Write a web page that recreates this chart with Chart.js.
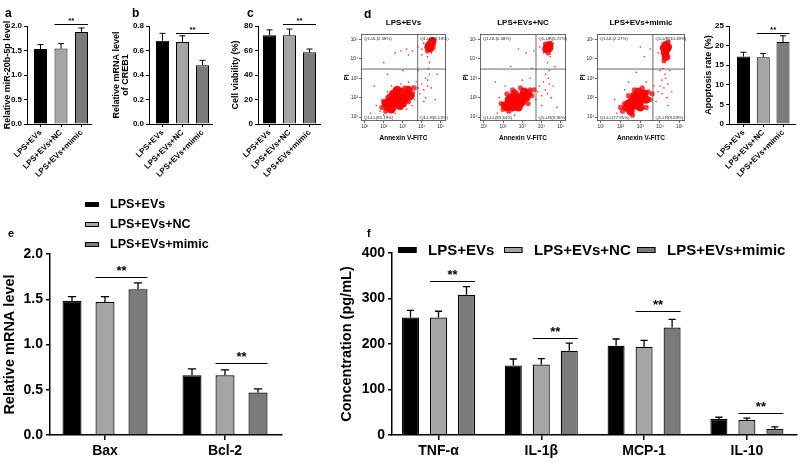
<!DOCTYPE html>
<html><head><meta charset="utf-8">
<script src="https://cdn.jsdelivr.net/npm/chart.js@4"></script>
<style>
html,body{margin:0;padding:0;background:#fff;}
#wrap{position:relative;width:800px;height:465px;overflow:hidden;background:#fff;}
canvas{position:absolute;}
</style></head><body><div id="wrap"></div>
<script>
// ================= DATA =================
const groups = ['LPS+EVs', 'LPS+EVs+NC', 'LPS+EVs+mimic'];

const miR20bValues = [1.53, 1.54, 1.88];
const miR20bErrors = [0.09, 0.10, 0.08];
const miR20bTicks = [0, 0.5, 1.0, 1.5, 2.0];

const creb1Values = [0.68, 0.67, 0.48];
const creb1Errors = [0.06, 0.05, 0.04];
const creb1Ticks = [0, 0.2, 0.4, 0.6, 0.8];

const viabilityValues = [72.5, 72.5, 58.5];
const viabilityErrors = [4.3, 5.0, 2.7];
const viabilityTicks = [0, 20, 40, 60, 80];

const apoptosisValues = [17.2, 17.0, 20.9];
const apoptosisErrors = [1.1, 1.0, 1.6];
const apoptosisTicks = [0, 5, 10, 15, 20, 25];

const geneCats = ['Bax', 'Bcl-2'];
const geneEVs = [1.48, 0.66];
const geneEVsErr = [0.05, 0.07];
const geneNC = [1.47, 0.66];
const geneNCErr = [0.06, 0.06];
const geneMimic = [1.61, 0.47];
const geneMimicErr = [0.07, 0.04];
const geneTicks = [0, 0.5, 1.0, 1.5, 2.0];

const cytoCats = ['TNF-α', 'IL-1β', 'MCP-1', 'IL-10'];
const cytoEVs = [258, 153, 196, 35];
const cytoEVsErr = [16, 14, 15, 4];
const cytoNC = [258, 155, 194, 33];
const cytoNCErr = [14, 13, 14, 4];
const cytoMimic = [308, 185, 236, 13];
const cytoMimicErr = [18, 17, 18, 5];
const cytoTicks = [0, 100, 200, 300, 400];

// flow cytometry (values are log10 decades)
const flowTickPos = [1, 2, 3, 4, 5];
const flowTickLabels = ['10¹', '10²', '10³', '10⁴', '10⁵'];
const flowTitles = ['LPS+EVs', 'LPS+EVs+NC', 'LPS+EVs+mimic'];
const flow1Quads = ['Q1-UL(2.58%)', 'Q1-UR(9.18%)', 'Q1-LL(81.19%)', 'Q1-LR(6.13%)'];
const flow2Quads = ['Q1-UL(0.58%)', 'Q1-UR(6.72%)', 'Q1-LL(83.34%)', 'Q1-LR(9.36%)'];
const flow3Quads = ['Q1-UL(2.27%)', 'Q1-UR(10.49%)', 'Q1-LL(77.95%)', 'Q1-LR(9.29%)'];
const flow1Gate = [3.78, 3.47];
const flow2Gate = [3.71, 3.47];
const flow3Gate = [3.64, 3.47];

const flow1Dense = [[2.2,1.5],[2.4,1.6],[2.6,1.7],[2.8,1.8],[3.0,2.0],[3.2,2.2],[2.5,1.9],[2.7,2.1],[2.9,2.3],[2.3,1.8],[2.6,2.0],[2.8,1.6],[3.1,1.9],[2.4,1.4],[2.7,2.4],[3.3,2.4],[2.1,1.7],[3.0,1.7],[2.5,2.2],[3.4,2.1],[4.4,4.7],[4.5,4.8],[4.35,4.6],[4.55,4.9],[4.45,4.55]];
const flow1Mid = [[1.9,1.5],[2.1,1.3],[2.0,1.8],[2.3,2.1],[2.6,2.4],[3.1,2.5],[3.3,1.8],[3.5,2.2],[2.9,1.5],[2.5,1.4],[3.6,2.5],[2.2,2.0],[4.3,4.4],[4.6,4.65]];
const flow1Sparse = [[3.5,2.6],[3.6,2.3],[3.7,2.8],[3.8,2.5],[3.9,2.2],[4.0,2.7],[4.1,2.4],[4.2,2.0],[4.3,2.6],[4.3,2.9],[4.4,3.2],[4.35,3.5],[4.4,3.8],[4.3,4.1],[4.5,4.3],[4.2,3.0],[4.5,2.5],[4.1,1.8],[1.8,1.3],[2.0,1.1],[1.9,1.9],[2.2,2.3],[2.4,2.6],[3.2,1.4],[3.5,1.6],[2.9,2.7],[3.3,2.8],[1.6,1.6],[2.6,1.2],[3.6,1.9],[2.9,4.4],[3.2,4.5],[3.5,4.4],[3.8,4.6],[4.0,4.5],[4.1,4.8],[3.3,4.2],[2.6,4.3],[4.7,4.5],[4.6,5.0],[4.0,4.2],[1.5,2.6],[2.2,3.2],[3.0,3.4],[3.8,3.4],[4.8,3.2],[4.7,1.9],[1.3,1.2],[2.0,3.8]];

const flow2Dense = [[2.2,1.5],[2.4,1.7],[2.6,1.8],[2.8,1.9],[3.0,2.1],[2.5,1.5],[2.7,2.0],[2.9,1.7],[2.3,1.9],[3.1,2.3],[2.6,2.2],[2.1,1.6],[2.8,1.5],[3.2,2.0],[2.4,2.0],[3.0,1.8],[2.7,1.6],[3.3,2.2],[4.3,4.6],[4.4,4.7],[4.25,4.5],[4.4,4.55]];
const flow2Mid = [[2.0,1.4],[1.9,1.7],[2.2,2.2],[2.5,2.4],[3.4,2.4],[3.3,1.7],[3.5,2.1],[2.9,2.5],[2.3,1.3],[3.6,2.4],[4.35,4.3],[4.2,4.75]];
const flow2Sparse = [[3.8,2.3],[3.9,2.6],[4.0,2.1],[4.1,2.8],[4.2,2.4],[4.3,2.2],[4.4,2.7],[4.35,3.0],[4.4,3.4],[4.3,3.8],[4.45,4.1],[4.2,3.2],[4.5,2.0],[4.6,2.6],[3.7,1.9],[4.0,1.6],[1.7,1.2],[1.8,2.0],[2.1,2.6],[3.0,2.9],[3.4,3.0],[2.6,1.1],[3.6,4.4],[3.9,4.6],[4.1,4.3],[4.6,4.8],[4.5,4.9],[3.2,4.3],[2.8,4.5],[2.4,3.6],[1.6,2.8],[4.7,3.6],[3.5,3.5],[4.8,1.5]];

const flow3Dense = [[2.5,1.5],[2.7,1.7],[2.9,1.9],[3.1,2.1],[2.6,1.9],[2.8,1.6],[3.0,1.8],[2.4,1.7],[3.2,2.2],[2.7,2.1],[2.5,1.3],[2.9,2.3],[3.3,1.9],[2.3,1.5],[3.0,1.5],[2.8,2.0],[4.3,4.7],[4.35,4.5],[4.25,4.3],[4.4,4.6],[4.3,4.1],[4.2,4.55]];
const flow3Mid = [[2.1,1.3],[2.2,1.7],[2.4,2.1],[2.7,2.4],[3.4,2.3],[3.5,1.9],[3.3,1.5],[2.6,1.1],[3.1,2.5],[2.0,1.5],[3.6,2.2],[4.2,3.9],[4.4,4.85]];
const flow3Sparse = [[4.1,2.2],[4.2,2.5],[4.1,2.9],[4.25,3.2],[4.15,3.5],[4.2,3.8],[4.3,3.0],[4.0,2.6],[4.35,2.0],[4.4,2.7],[3.9,2.3],[3.8,1.8],[4.5,3.4],[4.5,4.0],[4.5,4.9],[4.1,4.8],[3.9,4.3],[3.5,4.5],[3.2,4.1],[2.8,3.3],[2.2,2.4],[1.8,1.2],[1.7,1.9],[3.7,2.6],[3.3,2.8],[4.6,2.3],[4.4,1.6],[2.4,2.8],[3.0,4.6],[4.0,3.4]];

// ================= RENDER =================
const FAM = '"Liberation Sans", Arial, Helvetica, sans-serif';
const C1 = '#000000', C2 = '#a5a5a5', C3 = '#7b7b7b';
const barColors = [C1, C2, C3];

function addCanvas(box) {
  const c = document.createElement('canvas');
  c.width = box[2]; c.height = box[3];
  c.style.left = box[0] + 'px'; c.style.top = box[1] + 'px';
  c.style.width = box[2] + 'px'; c.style.height = box[3] + 'px';
  document.getElementById('wrap').appendChild(c);
  return c;
}

const extras = {
  id: 'extras',
  afterDatasetsDraw(chart, args, o) {
    const ctx = chart.ctx, ys = chart.scales.y;
    const ox = o.off[0], oy = o.off[1];
    ctx.save();
    ctx.strokeStyle = '#000'; ctx.fillStyle = '#000';
    chart.data.datasets.forEach((ds, di) => {
      if (!ds.errors) return;
      chart.getDatasetMeta(di).data.forEach((el, i) => {
        const top = ys.getPixelForValue(ds.data[i].y + ds.errors[i]);
        const cw = el.width * o.cap;
        ctx.lineWidth = o.elw;
        ctx.beginPath();
        ctx.moveTo(el.x, el.y); ctx.lineTo(el.x, top);
        ctx.moveTo(el.x - cw / 2, top); ctx.lineTo(el.x + cw / 2, top);
        ctx.stroke();
      });
    });
    (o.sig || []).forEach(s => {
      const a = chart.getDatasetMeta(s.a[0]).data[s.a[1]];
      const b = chart.getDatasetMeta(s.b[0]).data[s.b[1]];
      const y = Math.round(ys.getPixelForValue(s.y)) + 0.5;
      const xa = a.x - a.width / 2, xb = b.x + b.width / 2;
      ctx.lineWidth = o.slw;
      ctx.beginPath(); ctx.moveTo(xa, y); ctx.lineTo(xb, y); ctx.stroke();
      ctx.font = 'bold ' + o.sfs + 'px ' + FAM;
      ctx.textAlign = 'center'; ctx.textBaseline = 'alphabetic';
      ctx.fillText('**', (xa + xb) / 2, y - o.sgap);
    });
    if (o.legend) {
      const L = o.legend;
      ctx.font = 'bold ' + L.fs + 'px ' + FAM;
      ctx.textAlign = 'left'; ctx.textBaseline = 'middle';
      L.pos.forEach((p, i) => {
        const x = p[0] - ox, y = p[1] - oy;
        ctx.fillStyle = barColors[i];
        ctx.fillRect(x, y, L.bw, L.bh);
        ctx.lineWidth = 1; ctx.strokeStyle = '#000';
        ctx.strokeRect(x + 0.5, y + 0.5, L.bw - 1, L.bh - 1);
        ctx.fillStyle = '#000';
        ctx.fillText(groups[i], x + L.tx, y + L.bh / 2 + 0.5);
      });
    }
    (o.texts || []).forEach(t => {
      ctx.font = t.font; ctx.fillStyle = '#000';
      ctx.textAlign = t.align || 'left'; ctx.textBaseline = 'alphabetic';
      ctx.fillText(t.text, t.x - ox, t.y - oy);
    });
    ctx.restore();
  }
};

function barPanel(p) {
  const [bx, by, bw, bh] = p.box;
  const x0 = p.axisX, x1 = p.endX, y0 = p.topY, y1 = p.zeroY;
  const xmin = -(p.firstCenter - x0) / p.unit, xmax = (x1 - p.firstCenter) / p.unit;
  const lw = p.lw;
  new Chart(addCanvas(p.box), {
    type: 'bar',
    data: { datasets: p.datasets },
    options: {
      responsive: false, animation: false, events: [],
      datasets: { bar: { categoryPercentage: p.catPct, barPercentage: p.barPct, borderColor: '#000', borderWidth: p.bbw } },
      layout: { padding: { left: 0, top: y0 - by, right: bx + bw - x1, bottom: 0 } },
      plugins: { legend: { display: false }, tooltip: { enabled: false },
        extras: Object.assign({ off: [bx, by] }, p.extras) },
      scales: {
        x: { type: 'linear', min: xmin, max: xmax, offset: false, bounds: 'data',
          afterBuildTicks(s) { s.ticks = p.cats.map((_, i) => ({ value: i })); },
          afterFit(s) { s.height = by + bh - y1; s.paddingLeft = 0; s.paddingRight = 0; },
          ticks: { autoSkip: false, callback: (v) => p.cats[v], minRotation: p.rot, maxRotation: p.rot,
            padding: p.xpad, color: '#000', font: { family: FAM, size: p.xfs, weight: 'bold' } },
          grid: { offset: false, drawOnChartArea: false, drawTicks: true, tickLength: p.xtl, color: '#000', lineWidth: lw },
          border: { color: '#000', width: lw } },
        y: { min: 0, max: p.ymax,
          afterBuildTicks(s) { s.ticks = p.yticks.map(v => ({ value: v })); },
          afterFit(s) { s.width = x0 - bx; s.paddingTop = 0; s.paddingBottom = 0; },
          ticks: { callback: (v) => p.yfmt(v), padding: p.ypad, color: '#000', font: { family: FAM, size: p.yfs, weight: 'bold' } },
          grid: { drawOnChartArea: false, drawTicks: true, tickLength: p.ytl, color: '#000', lineWidth: lw },
          border: { color: '#000', width: lw },
          title: { display: true, text: p.ytitle, color: '#000',
            font: { family: FAM, size: p.ytfs, weight: 'bold', lineHeight: p.ytlh || 1.2 },
            padding: { top: p.ytpad, bottom: 0 } } }
      }
    },
    plugins: [extras]
  });
}

function single(values, errors) {
  return [{ data: values.map((v, i) => ({ x: i, y: v })), errors: errors, backgroundColor: barColors }];
}
function grouped(sets) {
  return sets.map((s, k) => ({ data: s[0].map((v, i) => ({ x: i, y: v })), errors: s[1], backgroundColor: barColors[k] }));
}
const f1 = v => v.toFixed(1), f0 = v => String(v);

function topPanel(box, axisX, firstCenter, unit, endX, values, errors, ticks, ymax, fmt, title, tpad, sigY, letter, lh) {
  barPanel({
    box, axisX, firstCenter, unit, endX, topY: 26, zeroY: 124,
    catPct: 1, barPct: 13 / unit, bbw: 1, lw: 1,
    datasets: single(values, errors), cats: groups, rot: 45, xfs: 8, xpad: 1, xtl: 3,
    ymax, yticks: ticks, yfmt: fmt, ypad: 2, ytl: 3, yfs: 8,
    ytitle: title, ytfs: 9, ytpad: tpad, ytlh: lh,
    extras: { cap: 0.46, elw: 1, slw: 1, sfs: 8, sgap: 1.5, sig: [{ a: [0, 1], b: [0, 2], y: sigY }],
      texts: [{ text: letter.t, x: letter.x, y: letter.y, font: 'bold 12px ' + FAM }] }
  });
}

topPanel([0, 0, 105, 190], 27, 40.5, 20.5, 91, miR20bValues, miR20bErrors, miR20bTicks, 2.0, f1,
  'Relative miR-20b-5p level', 2.6, 2.04, { t: 'a', x: 5, y: 17 }, 1.2);
topPanel([110, 0, 110, 190], 149, 162.5, 20, 212, creb1Values, creb1Errors, creb1Ticks, 0.8, f1,
  ['Relative mRNA level', 'of CREB1'], 2.5, 0.743, { t: 'b', x: 132, y: 17 }, 1.0);
topPanel([220, 0, 110, 190], 258, 269.5, 20, 320, viabilityValues, viabilityErrors, viabilityTicks, 80, f0,
  'Cell viability (%)', 10.6, 81.4, { t: 'c', x: 247, y: 17 }, 1.2);
topPanel([690, 0, 110, 190], 729, 743.5, 19.75, 795, apoptosisValues, apoptosisErrors, apoptosisTicks, 25, f0,
  'Apoptosis rate (%)', 13.6, 23.1, { t: '', x: 0, y: 0 }, 1.2);

// panel e
barPanel({
  box: [0, 190, 360, 275], axisX: 50, firstCenter: 105, unit: 120, endX: 282, topY: 254, zeroY: 435,
  catPct: 99 / 120, barPct: 19 / 33, bbw: 1.2, lw: 1.5,
  datasets: grouped([[geneEVs, geneEVsErr], [geneNC, geneNCErr], [geneMimic, geneMimicErr]]),
  cats: geneCats, rot: 0, xfs: 14, xpad: 3, xtl: 5,
  ymax: 2.0, yticks: geneTicks, yfmt: f1, ypad: 3, ytl: 4, yfs: 14,
  ytitle: 'Relative mRNA level', ytfs: 14.5, ytpad: 1.3,
  extras: { cap: 0.44, elw: 1.3, slw: 1.2, sfs: 13, sgap: 2.5,
    sig: [{ a: [1, 0], b: [2, 0], y: 1.746 }, { a: [1, 1], b: [2, 1], y: 0.796 }],
    legend: { fs: 12.5, bw: 14, bh: 5, tx: 25, pos: [[85, 202], [85, 222], [85, 242]] },
    texts: [{ text: 'e', x: 8, y: 237, font: 'bold 11px ' + FAM }] }
});

// panel f
barPanel({
  box: [338, 190, 462, 275], axisX: 392, firstCenter: 438.5, unit: 102.8, endX: 797, topY: 253, zeroY: 435,
  catPct: 84 / 102.8, barPct: 17 / 28, bbw: 1.2, lw: 1.5,
  datasets: grouped([[cytoEVs, cytoEVsErr], [cytoNC, cytoNCErr], [cytoMimic, cytoMimicErr]]),
  cats: cytoCats, rot: 0, xfs: 14, xpad: 3, xtl: 5,
  ymax: 400, yticks: cytoTicks, yfmt: f0, ypad: 3, ytl: 4, yfs: 14,
  ytitle: 'Concentration (pg/mL)', ytfs: 14.5, ytpad: 0,
  extras: { cap: 0.42, elw: 1.3, slw: 1.2, sfs: 13, sgap: 2.5,
    sig: [{ a: [1, 0], b: [2, 0], y: 338 }, { a: [1, 1], b: [2, 1], y: 213 }, { a: [1, 2], b: [2, 2], y: 272 }, { a: [1, 3], b: [2, 3], y: 49 }],
    legend: { fs: 15, bw: 18.5, bh: 6, tx: 30, pos: [[398, 247], [504, 247], [637, 247]] },
    texts: [{ text: 'f', x: 367, y: 237, font: 'bold 11px ' + FAM }] }
});

// flow cytometry panels
const flowPlugin = {
  id: 'flow',
  afterDatasetsDraw(chart, args, o) {
    const ctx = chart.ctx, a = chart.chartArea, xs = chart.scales.x, ys = chart.scales.y;
    ctx.save();
    ctx.strokeStyle = '#444'; ctx.lineWidth = 0.8;
    ctx.strokeRect(a.left + 0.4, a.top + 0.4, a.right - a.left - 0.8, a.bottom - a.top - 0.8);
    const vx = xs.getPixelForValue(o.gate[0]), hy = ys.getPixelForValue(o.gate[1]);
    ctx.beginPath();
    ctx.moveTo(vx, a.top); ctx.lineTo(vx, a.bottom);
    ctx.moveTo(a.left, hy); ctx.lineTo(a.right, hy);
    ctx.stroke();
    ctx.fillStyle = '#222'; ctx.font = '4.3px ' + FAM; ctx.textAlign = 'left'; ctx.textBaseline = 'alphabetic';
    ctx.fillText(o.quads[0], a.left + 3, a.top + 6);
    ctx.fillText(o.quads[1], vx + 2.5, a.top + 6);
    ctx.fillText(o.quads[2], a.left + 3, a.bottom - 2);
    ctx.fillText(o.quads[3], vx + 2.5, a.bottom - 2);
    ctx.fillStyle = '#000'; ctx.font = 'bold 8px ' + FAM; ctx.textAlign = 'center';
    ctx.fillText(o.title, (a.left + a.right) / 2, 25 - o.oy);
    if (o.letter) { ctx.font = 'bold 12px ' + FAM; ctx.textAlign = 'left'; ctx.fillText(o.letter, 364 - o.ox, 18 - o.oy); }
    ctx.restore();
  }
};
const toPts = arr => arr.map(p => ({ x: p[0], y: p[1] }));

function flowPanel(box, area, dense, mid, sparse, gate, quads, title, letter) {
  const [bx, by, bw, bh] = box, [x0, y0, x1, y1] = area;
  const tickFont = { family: FAM, size: 4.8 };
  new Chart(addCanvas(box), {
    type: 'scatter',
    data: { datasets: [
      { data: toPts(sparse), pointRadius: 0.8, backgroundColor: '#ff2020', borderWidth: 0 },
      { data: toPts(mid), pointRadius: 2.6, backgroundColor: 'rgba(255,0,0,0.75)', borderWidth: 0 },
      { data: toPts(dense), pointRadius: 4.2, backgroundColor: 'rgba(255,0,0,0.95)', borderWidth: 0 }
    ] },
    options: {
      responsive: false, animation: false, events: [],
      layout: { padding: { left: 0, top: y0 - by, right: bx + bw - x1, bottom: 0 } },
      plugins: { legend: { display: false }, tooltip: { enabled: false },
        flow: { gate, quads, title, letter, ox: bx, oy: by } },
      scales: {
        x: { type: 'linear', min: 0.8, max: 5.27,
          afterBuildTicks(s) { s.ticks = flowTickPos.map(v => ({ value: v })); },
          afterFit(s) { s.height = by + bh - y1; s.paddingLeft = 0; s.paddingRight = 0; },
          ticks: { autoSkip: false, maxRotation: 0, callback: (v, i) => flowTickLabels[i], padding: 1, color: '#222', font: tickFont },
          grid: { drawOnChartArea: false, tickLength: 2, color: '#444', lineWidth: 0.8 },
          border: { display: false },
          title: { display: true, text: 'Annexin V-FITC', color: '#000', font: { family: FAM, size: 6.5, weight: 'bold' }, padding: { top: 0, bottom: 3 } } },
        y: { type: 'linear', min: 0.8, max: 5.27,
          afterBuildTicks(s) { s.ticks = flowTickPos.map(v => ({ value: v })); },
          afterFit(s) { s.width = x0 - bx; s.paddingTop = 0; s.paddingBottom = 0; },
          ticks: { autoSkip: false, callback: (v, i) => flowTickLabels[i], padding: 1, color: '#222', font: tickFont },
          grid: { drawOnChartArea: false, tickLength: 2, color: '#444', lineWidth: 0.8 },
          border: { display: false },
          title: { display: true, text: 'PI', color: '#000', font: { family: FAM, size: 6.5, weight: 'bold' }, padding: { top: 3, bottom: 0 } } }
      }
    },
    plugins: [flowPlugin]
  });
}

flowPanel([340, 10, 115, 135], [361, 34, 446, 121], flow1Dense, flow1Mid, flow1Sparse, flow1Gate, flow1Quads, flowTitles[0], 'd');
flowPanel([459, 10, 116, 135], [480, 34, 566, 121], flow2Dense, flow2Mid, flow2Sparse, flow2Gate, flow2Quads, flowTitles[1], null);
flowPanel([576, 10, 118, 135], [597, 34, 685, 121], flow3Dense, flow3Mid, flow3Sparse, flow3Gate, flow3Quads, flowTitles[2], null);
</script></body></html>
